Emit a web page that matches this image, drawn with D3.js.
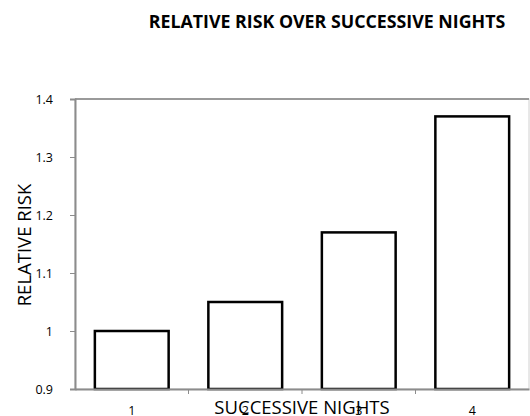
<!DOCTYPE html>
<html>
<head>
<meta charset="utf-8">
<script src="https://d3js.org/d3.v7.min.js"></script>
<style>
  body { margin: 0; background: #fff; }
  svg text { font-family: "Open Sans", "DejaVu Sans", sans-serif; fill: #000; }
</style>
</head>
<body>
<div id="chart"></div>
<script>
// Data
const nights = ["1", "2", "3", "4"];
const relativeRisk = [1.0, 1.05, 1.17, 1.37];
const yTicks = [0.9, 1, 1.1, 1.2, 1.3, 1.4];

const width = 530;
const height = 416;
const margin = { top: 99, right: 1, bottom: 27, left: 75 };
const innerWidth = width - margin.left - margin.right;
const innerHeight = height - margin.top - margin.bottom;

const svg = d3.select("#chart").append("svg")
  .attr("width", width)
  .attr("height", height);

const g = svg.append("g")
  .attr("transform", `translate(${margin.left},${margin.top})`);

// Scales
const x = d3.scaleBand()
  .domain(nights)
  .range([0, innerWidth])
  .paddingInner(0.35)
  .paddingOuter(0.175);

const xTickScale = d3.scaleBand().domain(nights).range([0, innerWidth]);

const y = d3.scaleLinear()
  .domain([0.9, 1.4])
  .range([innerHeight, 0]);

// Plot area border
g.append("rect")
  .attr("width", innerWidth)
  .attr("height", innerHeight)
  .attr("fill", "none")
  .attr("stroke", "#d0d0d0")
  .attr("stroke-width", 1);

g.append("line")
  .attr("x1", 0).attr("x2", innerWidth)
  .attr("y1", 0).attr("y2", 0)
  .attr("stroke", "#9a9a9a")
  .attr("stroke-width", 2);

// Bars
g.selectAll(".bar")
  .data(nights)
  .join("rect")
  .attr("class", "bar")
  .attr("x", d => x(d))
  .attr("width", x.bandwidth())
  .attr("y", (d, i) => y(relativeRisk[i]))
  .attr("height", (d, i) => innerHeight - y(relativeRisk[i]))
  .attr("fill", "#fff")
  .attr("stroke", "#000")
  .attr("stroke-width", 2.5);

// Y axis
const yAxis = g.append("g")
  .call(d3.axisLeft(y).tickValues(yTicks).tickFormat(d => d3.format("")(d)).tickSize(5).tickPadding(17));
yAxis.select(".domain").attr("stroke", "#8c8c8c").attr("stroke-width", 2);
yAxis.selectAll(".tick line").attr("stroke", "#8c8c8c");
yAxis.selectAll(".tick text").style("font-size", "12.5px").attr("fill", "#000");

// X axis
const xAxis = g.append("g")
  .attr("transform", `translate(0,${innerHeight})`)
  .call(d3.axisBottom(x).tickSize(0).tickPadding(17));
xAxis.select(".domain").attr("stroke", "#8c8c8c").attr("stroke-width", 2);
xAxis.selectAll(".tick text").style("font-size", "12.5px").attr("fill", "#000");

// Category boundary ticks
g.selectAll(".xsep")
  .data(nights.slice(1))
  .join("line")
  .attr("class", "xsep")
  .attr("x1", d => xTickScale(d))
  .attr("x2", d => xTickScale(d))
  .attr("y1", innerHeight)
  .attr("y2", innerHeight + 5)
  .attr("stroke", "#8c8c8c");

// Titles
svg.append("text")
  .attr("x", 327)
  .attr("y", 28)
  .attr("text-anchor", "middle")
  .style("font-size", "17.8px")
  .style("font-weight", "bold")
  .text("RELATIVE RISK OVER SUCCESSIVE NIGHTS");

svg.append("text")
  .attr("x", 302)
  .attr("y", 414)
  .attr("text-anchor", "middle")
  .style("font-size", "18.5px")
  .text("SUCCESSIVE NIGHTS");

svg.append("text")
  .attr("transform", "translate(31,245) rotate(-90)")
  .attr("text-anchor", "middle")
  .style("font-size", "18.5px")
  .text("RELATIVE RISK");
</script>
</body>
</html>
